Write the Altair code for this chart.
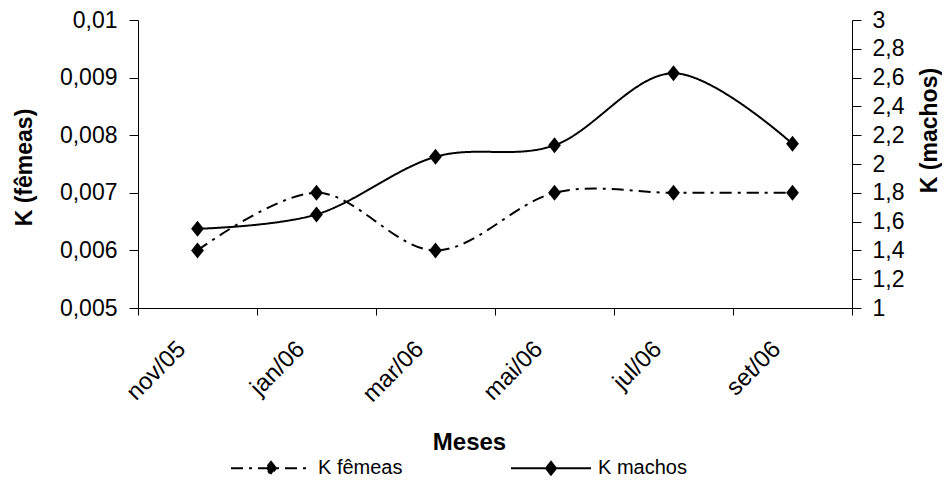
import altair as alt
import pandas as pd

meses = ["nov/05", "jan/06", "mar/06", "mai/06", "jul/06", "set/06"]
k_femeas = [0.006, 0.007, 0.006, 0.007, 0.007, 0.007]
k_machos = [1.55, 1.65, 2.05, 2.13, 2.63, 2.14]
series = ["K fêmeas", "K machos"]
left_ticks = [0.005, 0.006, 0.007, 0.008, 0.009, 0.01]
right_ticks = [1, 1.2, 1.4, 1.6, 1.8, 2, 2.2, 2.4, 2.6, 2.8, 3]

df_f = pd.DataFrame({"mes": meses, "valor": k_femeas, "serie": series[0]})
df_m = pd.DataFrame({"mes": meses, "valor": k_machos, "serie": series[1]})

FONT = "Liberation Sans"
diamond = "M0,-1L0.8,0L0,1L-0.8,0Z"
legend_symbol = "M-1,0L1,0M0,-0.16L0.125,0L0,0.16L-0.125,0Z"

x_enc = alt.X(
    "mes:N",
    sort=meses,
    scale=alt.Scale(type="band", paddingInner=0, paddingOuter=0),
    axis=alt.Axis(
        title="Meses",
        labelAngle=-45,
        labelAlign="right",
        labelBaseline="middle",
        labelFontSize=24,
        labelPadding=30,
        labelOffset=-16,
        tickBand="extent",
        tickSize=7,
        titleFontSize=24,
        titleX=331,
        titleY=134,
        titleBaseline="middle",
        titleAlign="center",
    ),
)

dash_scale = alt.Scale(domain=series, range=[[12, 6, 3, 6], [1, 0]])
legend_cfg = alt.Legend(
    title=None,
    orient="none",
    legendX=92,
    legendY=407,
    direction="horizontal",
    symbolType=legend_symbol,
    symbolSize=6400,
    symbolStrokeWidth=2,
    symbolFillColor="black",
    symbolStrokeColor="black",
    labelOffset=6,
    columnPadding=104,
    labelFontSize=20,
    labelFont=FONT,
    labelColor="black",
    padding=0,
)

y_f = alt.Y(
    "valor:Q",
    scale=alt.Scale(domain=[0.005, 0.01], nice=False, zero=False),
    axis=alt.Axis(
        orient="left",
        title="K (fêmeas)",
        values=left_ticks,
        labelExpr="replace(format(datum.value, '.3~f'), '.', ',')",
        labelFontSize=23,
        tickSize=9,
        labelPadding=12,
        titleAngle=270,
        titleX=-114,
        titleY=147,
        titleAlign="center",
        titleBaseline="middle",
    ),
)
y_m = alt.Y(
    "valor:Q",
    scale=alt.Scale(domain=[1, 3], nice=False, zero=False),
    axis=alt.Axis(
        orient="right",
        title="K (machos)",
        values=right_ticks,
        labelExpr="replace(format(datum.value, '.1~f'), '.', ',')",
        labelFontSize=23,
        tickSize=9,
        labelPadding=11,
        titleAngle=270,
        titleX=77,
        titleY=110,
        titleAlign="center",
        titleBaseline="middle",
    ),
)

def series_layer(df, y_enc):
    line = alt.Chart(df).mark_line(
        interpolate="cardinal", color="black", strokeWidth=2
    ).encode(
        x=x_enc,
        y=y_enc,
        strokeDash=alt.StrokeDash("serie:N", scale=dash_scale, legend=legend_cfg),
    )
    pts = alt.Chart(df).mark_point(
        shape=diamond, filled=True, size=256, color="black", opacity=1
    ).encode(x=x_enc, y=y_enc)
    return alt.layer(line, pts)

chart = (
    alt.layer(series_layer(df_f, y_f), series_layer(df_m, y_m))
    .resolve_scale(y="independent")
    .properties(
        width=714,
        height=288,
        autosize=alt.AutoSizeParams(type="none"),
        padding={"left": 130, "top": 12, "right": 90, "bottom": 170},
    )
    .configure_view(stroke=None)
    .configure_axis(
        labelFont=FONT,
        titleFont=FONT,
        labelFontSize=24,
        titleFontSize=23,
        labelColor="black",
        titleColor="black",
        titleFontWeight="bold",
        domainColor="black",
        tickColor="black",
        grid=False,
        domainWidth=1,
        tickWidth=1,
    )
)

chart.save("out.html", embed_options={"renderer": "svg", "actions": False})
